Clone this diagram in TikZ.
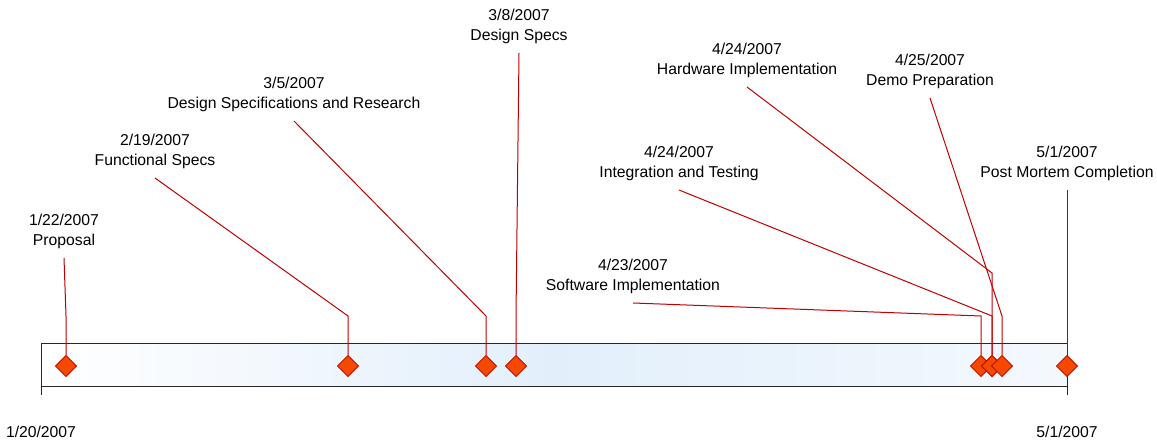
\documentclass[tikz,border=0pt]{standalone}
\usepackage{fontspec}
\setmainfont{Liberation Sans}
\usetikzlibrary{shapes.geometric}

\definecolor{leadred}{RGB}{192,0,0}
\definecolor{diafill}{RGB}{245,72,0}
\definecolor{diaedge}{RGB}{192,16,0}
\definecolor{barblue}{RGB}{226,239,251}

\tikzset{every picture/.style={line width=0.75pt}}
\tikzset{
	milestone/.style={diamond, draw=diaedge, fill=diafill, line width=0.6pt, minimum width=16pt, minimum height=16pt, inner sep=0pt},
	evlabel/.style={align=center, anchor=south, inner xsep=2pt, inner ysep=6.5pt, font=\fontsize{11.8}{15}\selectfont},
	datelabel/.style={font=\fontsize{11.8}{15}\selectfont},
	leader/.style={draw=leadred, line width=0.75pt},
}

\begin{document}
\begin{tikzpicture}[x=0.75pt,y=0.75pt,yscale=-1]
	\useasboundingbox (0,0) rectangle (1157,441);

	%Shape: Rectangle [id:timebar]
	\draw [draw={rgb, 255:red, 40; green, 40; blue, 40 }, left color=white, right color=white!60!barblue, middle color=barblue] (41,344) rectangle (1067,387);
	%Straight Lines [id:tickleft]
	\draw [draw={rgb, 255:red, 40; green, 40; blue, 40 }] (41,344) -- (41,395);
	%Straight Lines [id:tickright]
	\draw [draw={rgb, 255:red, 40; green, 40; blue, 40 }] (1067,387) -- (1067,395);

	% Text Node
	\node [datelabel] (startdate) at (41,432) {1/20/2007};
	% Text Node
	\node [datelabel] (enddate) at (1067,432) {5/1/2007};

	% Milestones
	\node [milestone] (dprop) at (66,366) {};
	\node [milestone] (dfunc) at (348,366) {};
	\node [milestone] (dres) at (486,366) {};
	\node [milestone] (dspec) at (516,366) {};
	\node [milestone] (dsoft) at (981,366) {};
	\node [milestone] (dinteg) at (992,366) {};
	\node [milestone] (dhard) at (992,366) {};
	\node [milestone] (ddemo) at (1002,366) {};
	\node [milestone] (dpost) at (1067,366) {};

	% Text Node
	\node [evlabel] (lprop) at (64,258) {1/22/2007\\Proposal};
	% Text Node
	\node [evlabel] (lfunc) at (155,178) {2/19/2007\\Functional Specs};
	% Text Node
	\node [evlabel] (lres) at (294,121) {3/5/2007\\Design Specifications and Research};
	% Text Node
	\node [evlabel] (lspec) at (519,53) {3/8/2007\\Design Specs};
	% Text Node
	\node [evlabel] (lsoft) at (633,303) {4/23/2007\\Software Implementation};
	% Text Node
	\node [evlabel] (linteg) at (679,190) {4/24/2007\\Integration and Testing};
	% Text Node
	\node [evlabel] (lhard) at (747,87) {4/24/2007\\Hardware Implementation};
	% Text Node
	\node [evlabel] (ldemo) at (930,98) {4/25/2007\\Demo Preparation};
	% Text Node
	\node [evlabel] (lpost) at (1067,190) {5/1/2007\\Post Mortem Completion};

	% Bends
	\coordinate (bprop) at (66,316);
	\coordinate (bfunc) at (348,316);
	\coordinate (bres) at (486,316);
	\coordinate (bspec) at (516,316);
	\coordinate (bsoft) at (981,316);
	\coordinate (binteg) at (992,316);
	\coordinate (bhard) at (992,273);
	\coordinate (bdemo) at (1002,316);

	%Straight Lines
	\draw [leader] (lprop.south) -- (bprop) -- (dprop.north);
	\draw [leader] (lfunc.south) -- (bfunc) -- (dfunc.north);
	\draw [leader] (lres.south) -- (bres) -- (dres.north);
	\draw [leader] (lspec.south) -- (bspec) -- (dspec.north);
	\draw [leader] (lsoft.south) -- (bsoft) -- (dsoft.north);
	\draw [leader] (linteg.south) -- (binteg) -- (dinteg.north);
	\draw [leader] (lhard.south) -- (bhard) -- (dhard.north);
	\draw [leader] (ldemo.south) -- (bdemo) -- (ddemo.north);
	\draw [leader] (lpost.south) -- (dpost.north);

\end{tikzpicture}
\end{document}
